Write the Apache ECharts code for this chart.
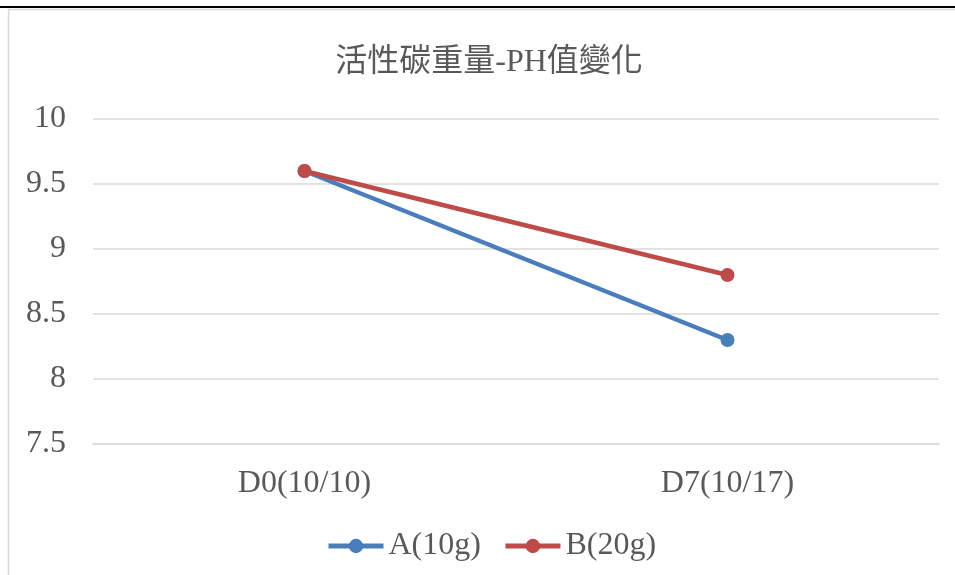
<!DOCTYPE html>
<html>
<head>
<meta charset="utf-8">
<script src="https://cdn.jsdelivr.net/npm/echarts@6/dist/echarts.min.js"></script>
<style>
  html, body { margin: 0; padding: 0; background: #fff; }
  #chart { width: 955px; height: 575px; }
</style>
</head>
<body>
<div id="chart"></div>
<script>
// pH readings after adding activated carbon
const categories = ['D0(10/10)', 'D7(10/17)'];
const seriesA = [9.6, 8.3];
const seriesB = [9.6, 8.8];
const seriesNames = ['A(10g)', 'B(20g)'];
const titleText = '活性碳重量-PH值變化';

const textFont = "'Liberation Serif', 'Noto Sans CJK TC', serif";
const textColor = '#595959';
const blue = '#4a7ebb';
const red = '#be4b48';

const chart = echarts.init(document.getElementById('chart'));
chart.setOption({
  backgroundColor: '#fff',
  animation: false,
  title: {
    text: titleText,
    left: 484,
    textAlign: 'center',
    top: 42,
    textStyle: { fontFamily: textFont, fontSize: 32, fontWeight: 'normal', color: textColor }
  },
  legend: {
    data: seriesNames,
    top: 525,
    left: 321,
    itemWidth: 55,
    itemHeight: 18,
    itemGap: 22,
    lineStyle: { width: 5 },
    textStyle: { fontFamily: textFont, fontSize: 32, color: textColor }
  },
  grid: { left: 93, right: 16, top: 119, bottom: 131, containLabel: false },
  xAxis: {
    type: 'category',
    data: categories,
    boundaryGap: true,
    axisLine: { show: true, lineStyle: { color: '#d9d9d9', width: 1.5 } },
    axisTick: { show: false },
    axisLabel: { fontFamily: textFont, fontSize: 32, color: textColor, margin: 24 }
  },
  yAxis: {
    type: 'value',
    min: 7.5,
    max: 10,
    interval: 0.5,
    axisLine: { show: false },
    axisTick: { show: false },
    axisLabel: { fontFamily: textFont, fontSize: 32, color: textColor, margin: 27 },
    splitLine: { lineStyle: { color: '#d9d9d9', width: 1.5 } }
  },
  series: [
    {
      name: seriesNames[0],
      type: 'line',
      data: seriesA,
      symbol: 'circle',
      symbolSize: 14,
      lineStyle: { width: 4.5, color: blue },
      itemStyle: { color: blue }
    },
    {
      name: seriesNames[1],
      type: 'line',
      data: seriesB,
      symbol: 'circle',
      symbolSize: 14,
      lineStyle: { width: 4.5, color: red },
      itemStyle: { color: red }
    }
  ],
  graphic: [
    { type: 'line', shape: { x1: 0, y1: 7, x2: 955, y2: 7 }, style: { stroke: '#000', lineWidth: 2 }, z: 10 },
    { type: 'line', shape: { x1: 8, y1: 9.5, x2: 955, y2: 9.5 }, style: { stroke: '#d9d9d9', lineWidth: 1.5 }, z: 9 },
    { type: 'line', shape: { x1: 8.5, y1: 9, x2: 8.5, y2: 575 }, style: { stroke: '#d9d9d9', lineWidth: 1.5 }, z: 9 }
  ]
});
</script>
</body>
</html>
